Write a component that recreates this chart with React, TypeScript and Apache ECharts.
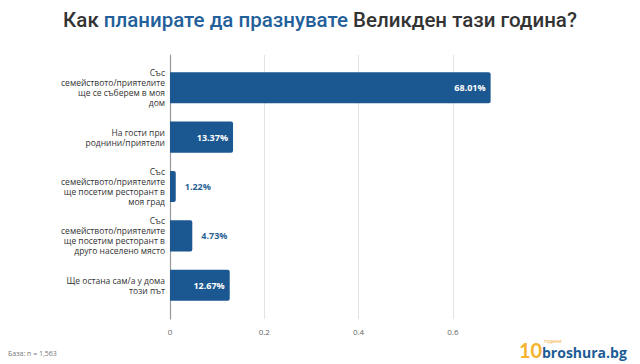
import React, { useEffect, useRef } from "react";
import * as echarts from "echarts";

const categories = [
  "Със\nсемейството/приятелите\nще се съберем в моя\nдом",
  "На гости при\nроднини/приятели",
  "Със\nсемейството/приятелите\nще посетим ресторант в\nмоя град",
  "Със\nсемейството/приятелите\nще посетим ресторант в\nдруго населено място",
  "Ще остана сам/а у дома\nтози път",
];
const values = [0.6801, 0.1337, 0.0122, 0.0473, 0.1267];
const insideLabel = [true, true, false, false, true];

const BLUE = "#1b5791";

export default function App() {
  const ref = useRef<HTMLDivElement>(null);
  useEffect(() => {
    const chart = echarts.init(ref.current!, null, { renderer: "svg" });
    const data = values.map((v, i) => ({
      value: v,
      label: insideLabel[i]
        ? { position: "insideRight", color: "#ffffff", distance: 5 }
        : { position: "right", color: "#2a6296", distance: 9 },
    }));
    chart.setOption({
      animation: false,
      backgroundColor: "#ffffff",
      textStyle: { fontFamily: "Roboto" },
      grid: [
        { left: 170, right: 140, top: 63, bottom: 54 },
        { left: 170, right: 140, top: 55, bottom: 45 },
      ],
      xAxis: [
        {
          gridIndex: 0,
          type: "value",
          min: 0,
          max: 0.7,
          show: false,
        },
        {
          gridIndex: 1,
          type: "value",
          min: 0,
          max: 0.7,
          interval: 0.2,
          axisLine: { show: false },
          axisTick: { show: false },
          axisLabel: {
            color: "#666",
            fontSize: 8,
            margin: 8,
            showMaxLabel: false,
            fontFamily: "Open Sans",
          },
          splitLine: { show: true, showMaxLine: false, lineStyle: { color: "#e3e3e3", width: 1 } },
        },
      ],
      yAxis: [
        {
          gridIndex: 0,
          type: "category",
          data: categories,
          inverse: true,
          axisLine: { show: false },
          axisTick: { show: false },
          axisLabel: {
            color: "#333",
            fontSize: 8.5,
            lineHeight: 10,
            margin: 5,
            align: "right",
            fontFamily: "Open Sans",
          },
        },
        {
          gridIndex: 1,
          type: "value",
          min: 0,
          max: 1,
          axisLine: { show: true, lineStyle: { color: "#999", width: 1.2 } },
          axisTick: { show: false },
          axisLabel: { show: false },
          splitLine: { show: false },
        },
      ],
      series: [
        {
          type: "bar",
          xAxisIndex: 0,
          yAxisIndex: 0,
          data,
          barWidth: "63%",
          itemStyle: { color: BLUE, borderRadius: [0, 2, 2, 0] },
          label: {
            show: true,
            fontSize: 9,
            fontWeight: "bold",
            fontFamily: "Open Sans",
            formatter: (p: any) => (p.value * 100).toFixed(2) + "%",
          },
        },
      ],
      graphic: [
        {
          type: "text",
          left: "center",
          top: 9,
          style: {
            text: "{d|Как }{b|планирате да празнувате}{d| Великден тази година?}",
            rich: {
              d: { fontSize: 20.5, fontWeight: 500, fill: "#333333", fontFamily: "Roboto" },
              b: { fontSize: 20.5, fontWeight: 500, fill: "#23609a", fontFamily: "Roboto" },
            },
          },
        },
        {
          type: "text",
          left: 8,
          top: 350,
          style: { text: "База: n = 1,563", fontSize: 7, fill: "#777", fontFamily: "Open Sans" },
        },
        {
          type: "text",
          left: 519,
          top: 340,
          style: { text: "10", fontSize: 20, fontWeight: "bold", fill: "#f5b32d", fontFamily: "Lato" },
        },
        {
          type: "text",
          left: 544,
          top: 338,
          style: { text: "години", fontSize: 5, fill: "#f5a623", fontFamily: "Open Sans" },
        },
        {
          type: "text",
          left: 542,
          top: 345,
          style: { text: "broshura.bg", fontSize: 14, fontWeight: "bold", fill: "#1d5c96", fontFamily: "Open Sans" },
        },
      ],
    });
    return () => chart.dispose();
  }, []);
  return <div ref={ref} style={{ width: 640, height: 364, position: "absolute", left: 0, top: 0 }} />;
}
